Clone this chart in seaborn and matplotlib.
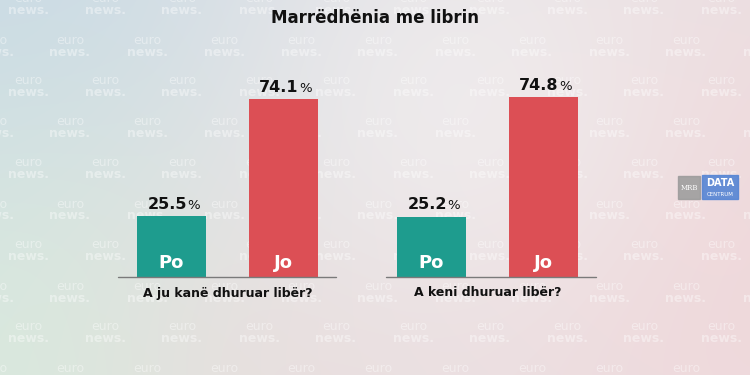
import numpy as np
import pandas as pd
import seaborn as sns
import matplotlib.pyplot as plt

title = "Marrëdhënia me librin"
questions = ["A ju kanë dhuruar libër?", "A keni dhuruar libër?"]
answers = ["Po", "Jo"]
po_values = [25.5, 25.2]
jo_values = [74.1, 74.8]
colors = {"Po": "#1e9c8e", "Jo": "#dc4f55"}

sns.set_style("white")
plt.rcParams['font.family'] = ['DejaVu Sans']

fig = plt.figure(figsize=(7.5, 3.75), dpi=100)

# soft background wash
bg = fig.add_axes([0, 0, 1, 1], zorder=-10)
yy, xx = np.mgrid[0:375, 0:750]
img = np.ones((375, 750, 3)) * np.array([0.905, 0.905, 0.915])
def blob(cx, cy, r, col, k):
    w = np.exp(-(((xx - cx) ** 2 + (yy - cy) ** 2) / (2 * r ** 2)))[..., None] * k
    return w * (np.array(col) - img)
img += blob(0, 0, 260, [0.78, 0.85, 0.90], 0.9)
img += blob(40, 375, 200, [0.84, 0.92, 0.86], 0.8)
img += blob(290, 375, 140, [0.93, 0.86, 0.86], 0.5)
img += blob(750, 260, 280, [0.94, 0.84, 0.85], 0.9)
img += blob(470, 110, 150, [0.95, 0.95, 0.95], 0.6)
bg.imshow(np.clip(img, 0, 1), aspect='auto', extent=[0, 1, 0, 1])
bg.set_xlim(0, 1)
bg.set_ylim(0, 1)
bg.axis('off')

# watermark grid (sits behind the bars)
for r, ypx in enumerate(range(5, 380, 41)):
    x0 = 28 if r % 2 == 0 else -7
    for xpx in range(x0, 770, 77):
        bg.text(xpx / 750, 1 - (ypx - 6) / 375, "euro", color='white', alpha=0.4,
                fontsize=9, ha='center', va='center', zorder=1)
        bg.text(xpx / 750, 1 - (ypx + 6) / 375, "news.", color='white', alpha=0.4,
                fontsize=9, fontweight='bold', ha='center', va='center', zorder=1)

fig.text(0.5, 1 - 18 / 375, title, ha='center', va='center',
         fontsize=12, fontweight='bold', color='#111111')

# axis extents in pixels: left edge, right edge, centre of first bar
frames = [(118, 336, 171.5), (386, 596, 431.5)]
for i, q in enumerate(questions):
    df = pd.DataFrame({"answer": answers, "value": [po_values[i], jo_values[i]]})
    left, right, c0 = frames[i]
    ax = fig.add_axes([left / 750, 1 - 277 / 375, (right - left) / 750, 192 / 375])
    sns.barplot(data=df, x="answer", y="value", hue="answer", palette=colors,
                width=0.616, saturation=1, linewidth=0, legend=False, ax=ax)
    ax.set_xlim(-(c0 - left) / 112, (right - c0) / 112)
    ax.set_ylim(0, 80)
    ax.patch.set_alpha(0)
    for s in ax.spines.values():
        s.set_visible(False)
    ax.set_xticks([])
    ax.set_yticks([])
    ax.set_xlabel("")
    ax.set_ylabel("")
    ax.axhline(0, color='#7a7a7a', lw=1.0, clip_on=False)
    for j, v in enumerate(df["value"]):
        ax.annotate(f"{v:.1f}", (j, v), xytext=(11, 3), textcoords='offset points',
                    ha='right', va='bottom', fontsize=11.5, fontweight='bold', color='#111111')
        ax.annotate("%", (j, v), xytext=(11, 3), textcoords='offset points',
                    ha='left', va='bottom', fontsize=9.5, color='#111111')
        ax.annotate(answers[j], (j, 0), xytext=(0, 10), textcoords='offset points',
                    ha='center', va='center', fontsize=13, fontweight='bold', color='white')
    qx = (c0 + 56 - left) / (right - left)
    ax.text(qx, -16 / 192, q, transform=ax.transAxes, ha='center', va='center',
            fontsize=9, fontweight='bold', color='#111111')

# logo
fig.patches.append(plt.Rectangle((678 / 750, 1 - 199 / 375), 22 / 750, 23 / 375,
                                 transform=fig.transFigure, color='#9a9a9a', alpha=0.85))
fig.patches.append(plt.Rectangle((702 / 750, 1 - 199 / 375), 36 / 750, 24 / 375,
                                 transform=fig.transFigure, color='#5585d4', alpha=0.9))
fig.text(689 / 750, 1 - 188 / 375, "MRB", ha='center', va='center', fontsize=5,
         color='white', family='DejaVu Serif')
fig.text(720 / 750, 1 - 183 / 375, "DATA", ha='center', va='center', fontsize=7,
         fontweight='bold', color='white')
fig.text(720 / 750, 1 - 194 / 375, "CENTRUM", ha='center', va='center', fontsize=4,
         color='white')

fig.savefig("out.png", dpi=100)
